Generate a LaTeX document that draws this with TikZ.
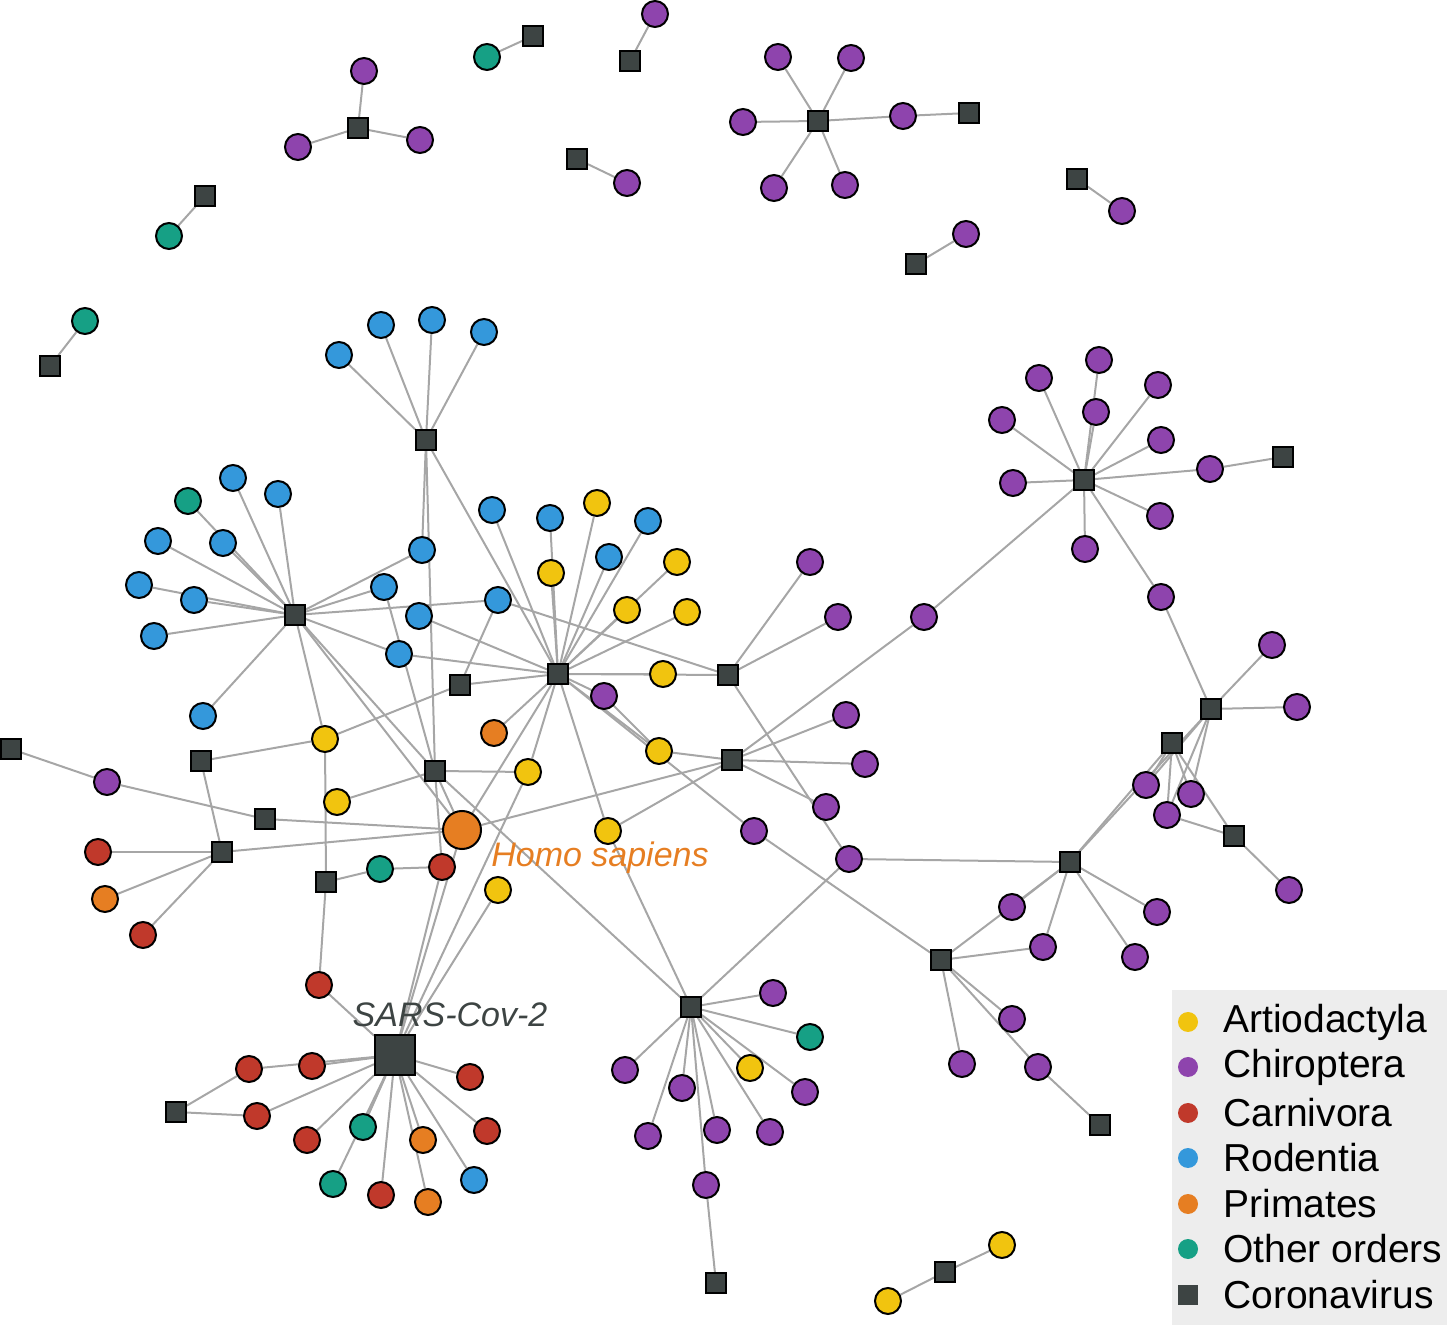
\documentclass[tikz,border=0pt]{standalone}
\usepackage{fontspec}
\setmainfont{Liberation Sans}
\usetikzlibrary{backgrounds}
\definecolor{cY}{RGB}{241,196,15}
\definecolor{cP}{RGB}{142,68,173}
\definecolor{cR}{RGB}{192,57,43}
\definecolor{cB}{RGB}{52,152,219}
\definecolor{cO}{RGB}{230,126,34}
\definecolor{cT}{RGB}{22,160,133}
\definecolor{cS}{RGB}{61,68,67}
\tikzset{
 c/.style={circle,draw=black,line width=1pt,minimum size=13pt,inner sep=0pt},
 Y/.style={c,fill=cY}, P/.style={c,fill=cP}, R/.style={c,fill=cR},
 B/.style={c,fill=cB}, O/.style={c,fill=cO}, T/.style={c,fill=cT},
 S/.style={rectangle,draw=black,line width=0.8pt,fill=cS,minimum size=10pt,inner sep=0pt},
 ed/.style={draw=black!35,line width=1pt},
 lg/.style={anchor=west,font=\fontsize{19.5}{22}\selectfont,inner sep=0pt},
 lm/.style={circle,minimum size=10pt,inner sep=0pt}
}
\begin{document}
\begin{tikzpicture}[x=0.5pt,y=-0.5pt]
\useasboundingbox (0,0) rectangle (1447,1325);
% isolated components
\node[S] (s1) at (533,36) {}; \node[T] (t1) at (487,57) {};
\node[S] (s2) at (630,61) {}; \node[P] (p2) at (655,14) {};
\node[S] (s3) at (358,128) {}; \node[P] (p3a) at (364,71) {}; \node[P] (p3b) at (298,147) {}; \node[P] (p3c) at (420,140) {};
\node[S] (s4) at (205,196) {}; \node[T] (t4) at (169,236) {};
\node[S] (s5) at (577,159) {}; \node[P] (p5) at (627,183) {};
\node[S] (s6) at (818,121) {}; \node[P] (p6a) at (778,57) {}; \node[P] (p6b) at (851,58) {}; \node[P] (p6c) at (743,122) {};
\node[P] (p6d) at (903,116) {}; \node[P] (p6e) at (774,188) {}; \node[P] (p6f) at (845,185) {}; \node[S] (s7) at (969,113) {};
\node[S] (s8) at (1077,179) {}; \node[P] (p8) at (1122,211) {};
\node[S] (s9) at (916,264) {}; \node[P] (p9) at (966,234) {};
\node[S] (s10) at (50,366) {}; \node[T] (t10) at (85,321) {};
\node[S] (s11) at (945,1272) {}; \node[Y] (y11a) at (1002,1245) {}; \node[Y] (y11b) at (888,1301) {};
% rodent hub R1
\node[S] (R1) at (426,440) {};
\node[B] (b1) at (339,355) {}; \node[B] (b2) at (381,325) {}; \node[B] (b3) at (432,320) {}; \node[B] (b4) at (484,332) {};
% hub A
\node[S] (A) at (295,615) {};
\node[B] (a1) at (233,478) {}; \node[B] (a2) at (278,494) {}; \node[B] (a3) at (223,543) {}; \node[B] (a4) at (158,541) {};
\node[B] (a5) at (139,585) {}; \node[B] (a6) at (194,600) {}; \node[B] (a7) at (154,636) {}; \node[T] (a8) at (188,501) {};
\node[B] (a9) at (203,716) {};
\node[B] (bm1) at (422,550) {}; \node[B] (bm2) at (384,587) {}; \node[B] (bm3) at (419,616) {}; \node[B] (bm4) at (498,600) {}; \node[B] (bm5) at (399,654) {};
% hub M
\node[S] (M) at (558,674) {};
\node[B] (m1) at (492,510) {}; \node[B] (m2) at (550,518) {}; \node[B] (m3) at (609,557) {}; \node[B] (m4) at (648,521) {};
\node[Y] (m5) at (597,503) {}; \node[Y] (m6) at (551,573) {}; \node[Y] (m7) at (677,562) {}; \node[Y] (m8) at (627,610) {};
\node[Y] (m9) at (687,612) {}; \node[Y] (m10) at (663,674) {}; \node[P] (m11) at (604,696) {}; \node[Y] (m12) at (659,751) {};
\node[Y] (y608) at (608,831) {}; \node[Y] (y528) at (528,772) {}; \node[O] (o494) at (494,733) {};
\node[S] (s728) at (728,675) {}; \node[P] (p810) at (810,562) {}; \node[P] (p838) at (838,617) {};
\node[S] (s732) at (732,760) {}; \node[P] (p846) at (846,715) {}; \node[P] (p865) at (865,764) {}; \node[P] (p826) at (826,807) {};
\node[P] (p924) at (924,617) {}; \node[P] (p849) at (849,859) {}; \node[P] (p754) at (754,831) {};
% hub C
\node[S] (C) at (1084,480) {};
\node[P] (c1) at (1039,378) {}; \node[P] (c2) at (1099,360) {}; \node[P] (c3) at (1096,412) {}; \node[P] (c4) at (1158,385) {};
\node[P] (c5) at (1161,440) {}; \node[P] (c6) at (1002,420) {}; \node[P] (c7) at (1013,483) {}; \node[P] (c8) at (1210,469) {};
\node[P] (c9) at (1160,516) {}; \node[P] (c10) at (1085,549) {}; \node[P] (c11) at (1161,597) {}; \node[S] (s1283) at (1283,457) {};
\node[S] (s1211) at (1211,709) {}; \node[P] (p1272) at (1272,645) {}; \node[P] (p1297) at (1297,707) {};
\node[S] (s1172) at (1172,743) {}; \node[P] (p1146) at (1146,785) {}; \node[P] (p1167) at (1167,815) {}; \node[P] (p1191) at (1191,794) {};
\node[S] (s1234) at (1234,836) {}; \node[P] (p1289) at (1289,890) {};
\node[S] (s1070) at (1070,862) {}; \node[P] (p1012) at (1012,907) {}; \node[P] (p1043) at (1043,947) {}; \node[P] (p1157) at (1157,912) {}; \node[P] (p1135) at (1135,957) {};
\node[S] (s941) at (941,960) {}; \node[P] (p1012b) at (1012,1019) {}; \node[P] (p1038) at (1038,1067) {}; \node[P] (p962) at (962,1064) {}; \node[S] (s1100) at (1100,1125) {};
% hub Bh
\node[S] (Bh) at (691,1007) {};
\node[P] (h1) at (773,993) {}; \node[T] (h2) at (810,1037) {}; \node[Y] (h3) at (750,1068) {}; \node[P] (h4) at (805,1092) {};
\node[P] (h5) at (770,1132) {}; \node[P] (h6) at (717,1130) {}; \node[P] (h7) at (682,1088) {}; \node[P] (h8) at (648,1136) {};
\node[P] (h9) at (625,1070) {}; \node[P] (h10) at (706,1185) {}; \node[S] (s716) at (716,1283) {};
% left
\node[S] (s11b) at (11,749) {}; \node[P] (p107) at (107,782) {}; \node[S] (s265) at (265,819) {};
\node[S] (s222) at (222,852) {}; \node[R] (r98) at (98,852) {}; \node[O] (o105) at (105,899) {}; \node[R] (r143) at (143,935) {};
\node[S] (s201) at (201,761) {}; \node[Y] (y325) at (325,739) {}; \node[Y] (y337) at (337,802) {};
\node[S] (s326) at (326,882) {}; \node[T] (t380) at (380,869) {}; \node[R] (r442) at (442,867) {}; \node[R] (r319) at (319,985) {};
\node[S] (s435) at (435,771) {}; \node[S] (s460) at (460,685) {}; \node[Y] (y498) at (498,890) {};
\node[circle,draw=black,line width=1pt,fill=cO,minimum size=19pt,inner sep=0pt] (H) at (462,830) {};
% SARS
\node[rectangle,draw=black,line width=1pt,fill=cS,minimum size=20pt,inner sep=0pt] (SC) at (395,1055) {};
\node[R] (q1) at (249,1069) {}; \node[R] (q2) at (312,1066) {}; \node[R] (q3) at (257,1116) {}; \node[R] (q4) at (307,1140) {};
\node[T] (q5) at (363,1127) {}; \node[T] (q6) at (333,1184) {}; \node[R] (q7) at (381,1195) {}; \node[O] (q8) at (428,1202) {};
\node[O] (q9) at (423,1140) {}; \node[B] (q10) at (474,1180) {}; \node[R] (q11) at (487,1131) {}; \node[R] (q12) at (470,1077) {};
\node[S] (s176) at (176,1112) {};
\node[font=\fontsize{17}{20}\selectfont\itshape,text=cS] (lsc) at (450,1015) {SARS-Cov-2};
\node[font=\fontsize{17}{20}\selectfont\itshape,text=cO] (lh) at (600,858) {Homo sapiens};
\begin{scope}[on background layer]
\foreach \a/\b in {s1/t1,s2/p2,s3/p3a,s3/p3b,s3/p3c,s4/t4,s5/p5,s6/p6a,s6/p6b,s6/p6c,s6/p6d,s6/p6e,s6/p6f,p6d/s7,s8/p8,s9/p9,s10/t10,s11/y11a,s11/y11b,
 R1/b1,R1/b2,R1/b3,R1/b4,R1/bm1,R1/M,R1/s435,
 A/a1,A/a2,A/a3,A/a4,A/a5,A/a6,A/a7,A/a8,A/a9,A/bm1,A/bm2,A/bm4,A/bm5,A/y325,A/s435,A/H,
 M/m1,M/m2,M/m3,M/m4,M/m5,M/m6,M/m7,M/m8,M/m9,M/m10,M/m11,M/m12,M/y608,M/H,M/y528,M/o494,M/bm3,M/bm5,M/s460,M/p754,M/s728,
 s728/p810,s728/p838,s728/bm4,s728/p849,s732/p846,s732/p865,s732/p826,s732/y608,s732/p924,s732/m12,s732/H,m11/m12,
 C/c1,C/c2,C/c3,C/c4,C/c5,C/c6,C/c7,C/c8,C/c9,C/c10,C/c11,C/p924,c8/s1283,c11/s1211,
 s1211/p1272,s1211/p1297,s1211/p1146,s1211/p1167,s1211/p1191,s1211/s1070,s1172/p1146,s1172/p1167,s1172/p1191,s1172/s1070,s1172/s1234,
 s1234/p1289,s1234/p1167,s1070/p1012,s1070/p1043,s1070/p1157,s1070/p1135,s1070/p849,s1070/s941,
 s941/p1012b,s941/p1038,p1038/s1100,s941/p962,s941/p1043,s941/p754,
 Bh/h1,Bh/h2,Bh/h3,Bh/h4,Bh/h5,Bh/h6,Bh/h7,Bh/h8,Bh/h9,Bh/h10,h10/s716,Bh/p849,Bh/y608,Bh/s435,
 s11b/p107,p107/s265,s265/H,s222/r98,s222/o105,s222/r143,s222/s201,s222/H,s201/y325,y325/s326,y325/s460,s460/bm4,
 s435/y337,s435/H,s435/y528,s435/r442,bm2/s435,s326/t380,t380/r442,s326/r319,r319/SC,
 r442/SC,H/SC,y498/SC,y528/SC,
 SC/q1,SC/q2,SC/q3,SC/q4,SC/q5,SC/q6,SC/q7,SC/q8,SC/q9,SC/q10,SC/q11,SC/q12,s176/q1,s176/q3}
 {\draw[ed] (\a) -- (\b);}
\end{scope}
% legend
\fill[black!7] (1172,990) rectangle (1447,1325);
\foreach \col/\txt/\yy [count=\i] in {cY/Artiodactyla/1022,cP/Chiroptera/1067,cR/Carnivora/1113,cB/Rodentia/1158,cO/Primates/1204,cT/Other orders/1249}
 {\node[lm,fill=\col] (lm\i) at (1188,\yy) {}; \node[lg] (lt\i) at (1223,\yy) {\txt};}
\node[rectangle,fill=cS,minimum size=10pt,inner sep=0pt] (lm7) at (1188,1295) {};
\node[lg] (lt7) at (1223,1295) {Coronavirus};
\end{tikzpicture}
\end{document}
